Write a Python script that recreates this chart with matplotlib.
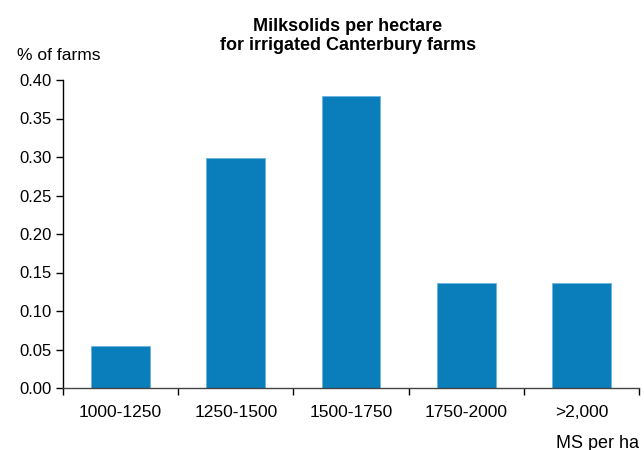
import matplotlib.pyplot as plt
import numpy as np

# data
categories = ['1000-1250', '1250-1500', '1500-1750', '1750-2000', '>2,000']
share = [0.055, 0.299, 0.379, 0.136, 0.136]
yticks = [0.00, 0.05, 0.10, 0.15, 0.20, 0.25, 0.30, 0.35, 0.40]

plt.rcParams['font.family'] = 'Liberation Sans'

fig = plt.figure(figsize=(6.44, 4.5), dpi=100)
ax = fig.add_axes([63/644, 1 - 388/450, 576/644, 308/450])

x = np.arange(len(categories))
ax.bar(x, share, width=0.51, color='#0a7dbb', edgecolor='#6ab4e4', linewidth=0.6)

ax.set_xlim(-0.5, len(categories) - 0.5)
ax.set_ylim(0, 0.40)
ax.set_yticks(yticks)
ax.set_yticklabels(['%.2f' % v for v in yticks], fontsize=12)
ax.set_xticks(x)
ax.set_xticklabels(categories, fontsize=12.5)
ax.set_xticks(np.arange(-0.5, len(categories)), minor=True)
ax.tick_params(axis='x', which='major', length=0, pad=12)
ax.tick_params(axis='x', which='minor', length=5, direction='out', width=1)
ax.tick_params(axis='y', length=5, direction='out', width=1, pad=3)

for s in ['top', 'right']:
    ax.spines[s].set_visible(False)
ax.spines['left'].set_linewidth(1)
ax.spines['bottom'].set_linewidth(1)
ax.spines['bottom'].set_color('#444444')

fig.text(348/644, 1 - 36/450, 'Milksolids per hectare\nfor irrigated Canterbury farms',
         ha='center', va='center', fontsize=13, fontweight='bold', linespacing=1.2)
fig.text(17/644, 1 - 56/450, '% of farms', ha='left', va='center', fontsize=12.5)
fig.text(556/644, 1 - 443/450, 'MS per ha', ha='left', va='center', fontsize=13)

fig.savefig('out.png', dpi=100)
